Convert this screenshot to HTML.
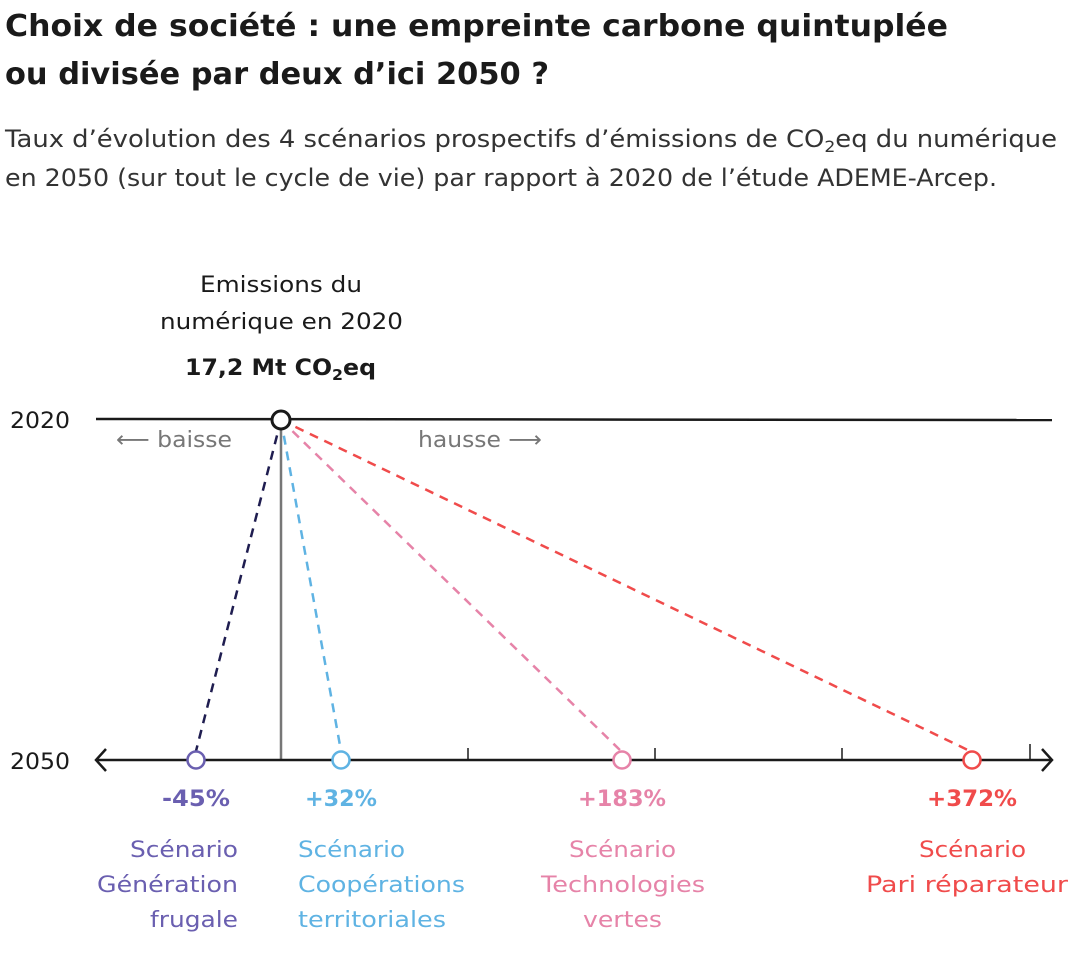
<!DOCTYPE html>
<html><head><meta charset="utf-8"><style>
body{margin:0;background:#fff;width:1069px;height:951px;overflow:hidden;}
</style></head><body>
<svg width="1069" height="951" xmlns="http://www.w3.org/2000/svg" font-family="DejaVu Sans, Liberation Sans, sans-serif">
<text x="5" y="36" font-size="30" font-weight="bold" fill="#1a1a1a" textLength="943" lengthAdjust="spacingAndGlyphs">Choix de société : une empreinte carbone quintuplée</text>
<text x="5" y="84" font-size="30" font-weight="bold" fill="#1a1a1a" textLength="544" lengthAdjust="spacingAndGlyphs">ou divisée par deux d’ici 2050 ?</text>
<text x="5" y="147" font-size="24" fill="#333" textLength="1052" lengthAdjust="spacingAndGlyphs">Taux d’évolution des 4 scénarios prospectifs d’émissions de CO<tspan font-size="16" dy="5">2</tspan><tspan dy="-5">eq du numérique</tspan></text>
<text x="5" y="186" font-size="24" fill="#333" textLength="992" lengthAdjust="spacingAndGlyphs">en 2050 (sur tout le cycle de vie) par rapport à 2020 de l’étude ADEME-Arcep.</text>

<g fill="#1a1a1a" font-size="22.5">
<text x="200" y="292" textLength="162" lengthAdjust="spacingAndGlyphs">Emissions du</text>
<text x="160" y="329" textLength="243" lengthAdjust="spacingAndGlyphs">numérique en 2020</text>
<text x="185" y="375" font-weight="bold" textLength="191" lengthAdjust="spacingAndGlyphs">17,2 Mt CO<tspan font-size="15" dy="5">2</tspan><tspan dy="-5">eq</tspan></text>
</g>

<text x="10" y="428" font-size="22.5" fill="#1a1a1a" textLength="60" lengthAdjust="spacingAndGlyphs">2020</text>
<text x="10" y="769" font-size="22.5" fill="#1a1a1a" textLength="60" lengthAdjust="spacingAndGlyphs">2050</text>

<line x1="96" y1="419" x2="1052" y2="420" stroke="#1a1a1a" stroke-width="2.5"/>
<text x="116" y="447" font-size="22.5" fill="#777" textLength="116" lengthAdjust="spacingAndGlyphs">⟵ baisse</text>
<text x="418" y="447" font-size="22.5" fill="#777" textLength="124" lengthAdjust="spacingAndGlyphs">hausse ⟶</text>

<line x1="281" y1="420" x2="281" y2="760" stroke="#777" stroke-width="2.5"/>
<g stroke-width="2.5" stroke-dasharray="9,7" fill="none">
<line x1="281" y1="420" x2="196" y2="751" stroke="#1f1d50"/>
<line x1="281" y1="420" x2="341" y2="751" stroke="#5fb3e3"/>
<line x1="281" y1="420" x2="622" y2="752" stroke="#e683a8"/>
<line x1="281" y1="420" x2="972" y2="752" stroke="#f04b4b"/>
</g>

<line x1="96" y1="760" x2="1052" y2="760" stroke="#1a1a1a" stroke-width="2.5"/>
<polyline points="106,749 96,760 106,771" fill="none" stroke="#1a1a1a" stroke-width="2.5"/>
<polyline points="1042,749 1052,760 1042,771" fill="none" stroke="#1a1a1a" stroke-width="2.5"/>
<g stroke="#1a1a1a" stroke-width="1.5">
<line x1="468" y1="748" x2="468" y2="760"/>
<line x1="655" y1="748" x2="655" y2="760"/>
<line x1="842" y1="748" x2="842" y2="760"/>
<line x1="1030" y1="744" x2="1030" y2="760"/>
</g>

<circle cx="281" cy="420" r="9" fill="#fff" stroke="#1a1a1a" stroke-width="3"/>
<circle cx="196" cy="760" r="8.5" fill="#fff" stroke="#6a5fb0" stroke-width="2.5"/>
<circle cx="341" cy="760" r="8.5" fill="#fff" stroke="#5fb3e3" stroke-width="2.5"/>
<circle cx="622" cy="760" r="8.5" fill="#fff" stroke="#e683a8" stroke-width="2.5"/>
<circle cx="972" cy="760" r="8.5" fill="#fff" stroke="#f04b4b" stroke-width="2.5"/>

<g font-size="22.5" font-weight="bold">
<text x="162" y="806" fill="#6a5fb0" textLength="68" lengthAdjust="spacingAndGlyphs">-45%</text>
<text x="305" y="806" fill="#5fb3e3" textLength="72" lengthAdjust="spacingAndGlyphs">+32%</text>
<text x="578" y="806" fill="#e683a8" textLength="88" lengthAdjust="spacingAndGlyphs">+183%</text>
<text x="927" y="806" fill="#f04b4b" textLength="90" lengthAdjust="spacingAndGlyphs">+372%</text>
</g>
<g font-size="22.5">
<g fill="#6a5fb0">
<text x="130" y="857" textLength="108" lengthAdjust="spacingAndGlyphs">Scénario</text>
<text x="97" y="892" textLength="141" lengthAdjust="spacingAndGlyphs">Génération</text>
<text x="150" y="927" textLength="88" lengthAdjust="spacingAndGlyphs">frugale</text></g>
<g fill="#5fb3e3">
<text x="298" y="857" textLength="107" lengthAdjust="spacingAndGlyphs">Scénario</text>
<text x="298" y="892" textLength="167" lengthAdjust="spacingAndGlyphs">Coopérations</text>
<text x="298" y="927" textLength="148" lengthAdjust="spacingAndGlyphs">territoriales</text></g>
<g fill="#e683a8">
<text x="569" y="857" textLength="107" lengthAdjust="spacingAndGlyphs">Scénario</text>
<text x="541" y="892" textLength="164" lengthAdjust="spacingAndGlyphs">Technologies</text>
<text x="583" y="927" textLength="79" lengthAdjust="spacingAndGlyphs">vertes</text></g>
<g fill="#f04b4b">
<text x="919" y="857" textLength="107" lengthAdjust="spacingAndGlyphs">Scénario</text>
<text x="866" y="892" textLength="202" lengthAdjust="spacingAndGlyphs">Pari réparateur</text></g>
</g>
</svg>
</body></html>
